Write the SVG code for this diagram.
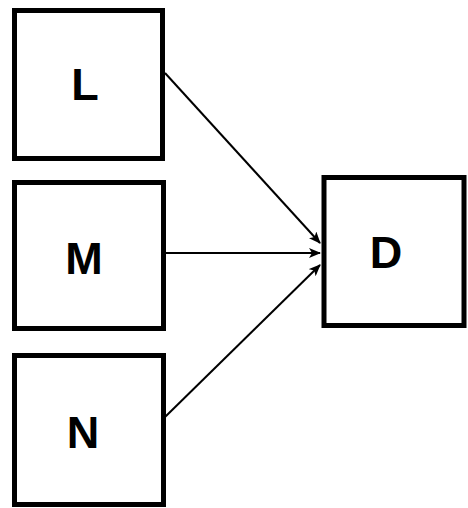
<svg xmlns="http://www.w3.org/2000/svg" width="468" height="508" viewBox="0 0 468 508">
  <style>
    .box { fill: #fff; stroke: #000; stroke-width: 5; }
    .lbl { font-family: "Liberation Sans", Arial, sans-serif; font-weight: bold; font-size: 45px; text-anchor: middle; fill: #000; }
    .edge { stroke: #000; stroke-width: 2; fill: none; marker-end: url(#arrow); }
  </style>
  <defs>
    <marker id="arrow" markerWidth="12" markerHeight="10" refX="11" refY="5" orient="auto" markerUnits="userSpaceOnUse">
      <path d="M0,0 L12,5 L0,10 L3,5 Z" fill="#000"/>
    </marker>
  </defs>
  <rect width="468" height="508" fill="#fff"/>
  <g id="node-L">
    <rect class="box" x="14.5" y="10.5" width="148" height="148"/>
    <text class="lbl" x="85" y="100">L</text>
  </g>
  <g id="node-M">
    <rect class="box" x="14.5" y="182.5" width="149" height="146"/>
    <text class="lbl" x="84" y="274">M</text>
  </g>
  <g id="node-N">
    <rect class="box" x="14.5" y="355.5" width="149" height="149"/>
    <text class="lbl" x="83" y="448">N</text>
  </g>
  <g id="node-D">
    <rect class="box" x="324" y="177.5" width="140" height="148"/>
    <text class="lbl" x="386" y="268">D</text>
  </g>
  <g id="connectors">
    <line class="edge" x1="165" y1="73" x2="320" y2="243"/>
    <line class="edge" x1="165" y1="253" x2="320" y2="253"/>
    <line class="edge" x1="165" y1="417" x2="320" y2="265"/>
  </g>
</svg>
